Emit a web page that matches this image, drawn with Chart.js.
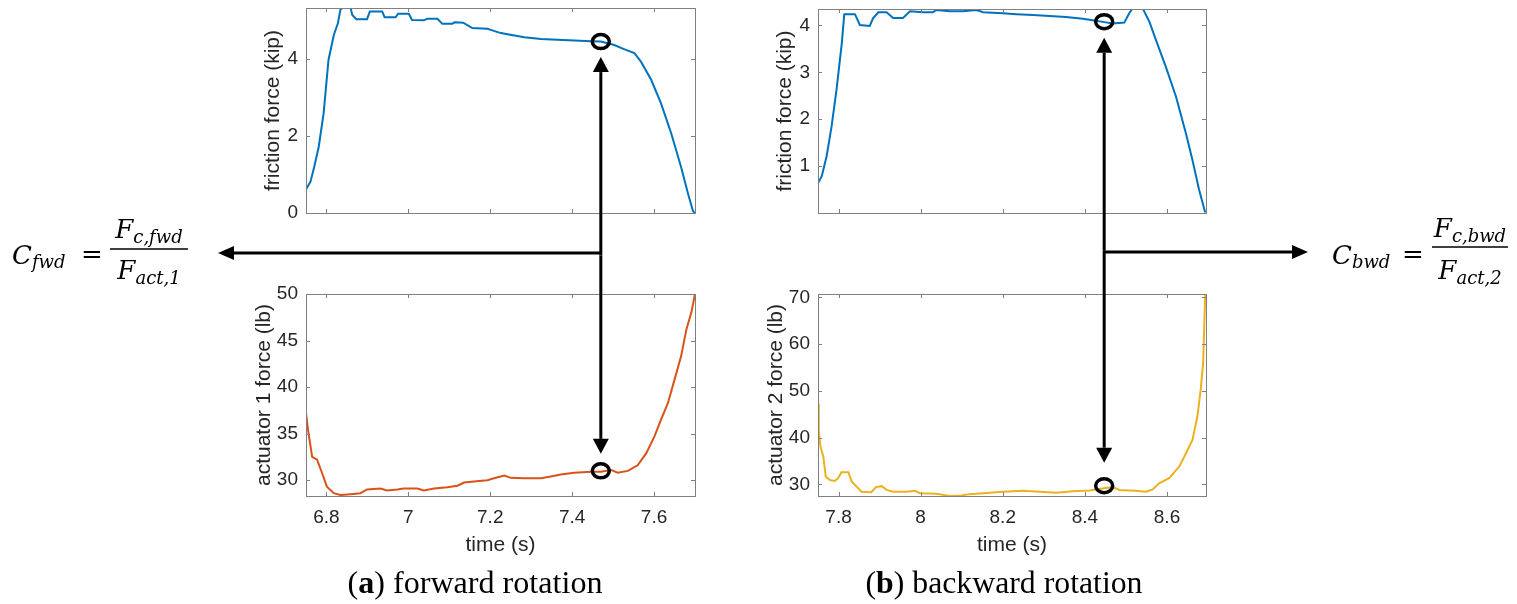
<!DOCTYPE html>
<html>
<head>
<meta charset="utf-8">
<script src="https://cdn.jsdelivr.net/npm/chart.js@4.4.1/dist/chart.umd.min.js"></script>
<style>
  html, body { margin: 0; padding: 0; background: #fff; }
  #page { position: relative; width: 1517px; height: 604px; overflow: hidden; background: #fff; }
  #page canvas { position: absolute; }
  #texto { position: absolute; left: 0; top: 0; }
</style>
</head>
<body>
<div id="page">
  <canvas id="fricFwd"></canvas>
  <canvas id="act1"></canvas>
  <canvas id="fricBwd"></canvas>
  <canvas id="act2"></canvas>
  <canvas id="overlay" width="1517" height="604" style="left:0;top:0"></canvas>
  <svg id="texto" width="1517" height="604">
    <g font-family="'DejaVu Serif', serif" font-style="italic" font-size="26" fill="#000">
      <text x="12" y="264">C<tspan font-size="18" dy="4">fwd</tspan></text>
      <text x="81" y="263" font-style="normal">=</text>
      <text x="149" y="238" text-anchor="middle">F<tspan font-size="18" dy="5">c,fwd</tspan></text>
      <line x1="110" x2="188" y1="249" y2="249" stroke="#000" stroke-width="1.6"/>
      <text x="149" y="279" text-anchor="middle">F<tspan font-size="18" dy="5">act,1</tspan></text>

      <text x="1332" y="264">C<tspan font-size="18" dy="4">bwd</tspan></text>
      <text x="1402" y="263" font-style="normal">=</text>
      <text x="1470" y="237" text-anchor="middle">F<tspan font-size="18" dy="5">c,bwd</tspan></text>
      <line x1="1432" x2="1508" y1="247" y2="247" stroke="#000" stroke-width="1.6"/>
      <text x="1470" y="279" text-anchor="middle">F<tspan font-size="18" dy="5">act,2</tspan></text>
    </g>
    <g font-family="'Liberation Serif', 'Times New Roman', serif" font-size="31" fill="#000">
      <text x="475" y="593" text-anchor="middle" textLength="255" lengthAdjust="spacingAndGlyphs">(<tspan font-weight="bold">a</tspan>) forward rotation</text>
      <text x="1004" y="593" text-anchor="middle" textLength="277" lengthAdjust="spacingAndGlyphs">(<tspan font-weight="bold">b</tspan>) backward rotation</text>
    </g>
  </svg>
</div>
<script>
// datos
const frictionFwdTime = [6.750, 6.761, 6.770, 6.781, 6.793, 6.805, 6.818, 6.828, 6.834, 6.838, 6.859, 6.863, 6.873, 6.899, 6.906, 6.936, 6.942, 6.969, 6.975, 7.001, 7.009, 7.038, 7.046, 7.071, 7.083, 7.107, 7.113, 7.134, 7.156, 7.193, 7.205, 7.226, 7.242, 7.283, 7.324, 7.364, 7.405, 7.446, 7.470, 7.503, 7.528, 7.552, 7.568, 7.593, 7.617, 7.642, 7.666, 7.683, 7.695, 7.700];
const frictionFwdKip = [0.61, 0.81, 1.19, 1.71, 2.58, 3.97, 4.61, 4.92, 5.26, 5.31, 5.31, 5.13, 5.02, 5.02, 5.22, 5.22, 5.07, 5.07, 5.16, 5.16, 5.00, 4.99, 5.03, 5.03, 4.90, 4.90, 4.94, 4.93, 4.79, 4.77, 4.73, 4.66, 4.63, 4.55, 4.51, 4.49, 4.47, 4.45, 4.44, 4.35, 4.24, 4.14, 3.92, 3.45, 2.84, 2.06, 1.19, 0.50, 0.05, 0.00];

const actuator1Time = [6.750, 6.755, 6.765, 6.777, 6.789, 6.801, 6.818, 6.834, 6.859, 6.883, 6.899, 6.932, 6.948, 6.973, 6.989, 7.022, 7.038, 7.063, 7.095, 7.120, 7.136, 7.160, 7.193, 7.209, 7.234, 7.250, 7.283, 7.324, 7.348, 7.372, 7.405, 7.446, 7.470, 7.495, 7.511, 7.536, 7.560, 7.581, 7.601, 7.617, 7.634, 7.650, 7.666, 7.679, 7.691, 7.700];
const actuator1Lb = [37.2, 35.4, 32.5, 32.2, 30.8, 29.3, 28.6, 28.4, 28.5, 28.6, 29.0, 29.1, 28.9, 29.0, 29.1, 29.1, 28.9, 29.1, 29.25, 29.4, 29.75, 29.85, 30.0, 30.2, 30.5, 30.25, 30.2, 30.2, 30.4, 30.6, 30.8, 30.9, 30.9, 31.1, 30.8, 31.0, 31.6, 32.9, 34.7, 36.5, 38.3, 40.8, 43.3, 46.2, 48.0, 50.0];

const frictionBwdTime = [7.750, 7.759, 7.771, 7.783, 7.795, 7.808, 7.814, 7.840, 7.852, 7.876, 7.884, 7.897, 7.917, 7.933, 7.957, 7.974, 8.006, 8.030, 8.038, 8.071, 8.103, 8.136, 8.152, 8.200, 8.233, 8.273, 8.314, 8.354, 8.395, 8.427, 8.447, 8.468, 8.496, 8.508, 8.516, 8.541, 8.557, 8.573, 8.597, 8.622, 8.646, 8.662, 8.678, 8.693];
const frictionBwdKip = [0.64, 0.78, 1.21, 1.84, 2.62, 3.62, 4.24, 4.24, 4.01, 3.99, 4.15, 4.28, 4.28, 4.16, 4.16, 4.30, 4.28, 4.28, 4.33, 4.30, 4.30, 4.33, 4.28, 4.26, 4.24, 4.22, 4.20, 4.18, 4.14, 4.10, 4.07, 4.04, 4.06, 4.26, 4.36, 4.36, 4.08, 3.69, 3.12, 2.48, 1.70, 1.13, 0.50, 0.01];

const actuator2Time = [7.750, 7.752, 7.756, 7.763, 7.769, 7.779, 7.791, 7.799, 7.807, 7.824, 7.832, 7.844, 7.856, 7.880, 7.891, 7.905, 7.917, 7.933, 7.965, 7.986, 7.998, 8.038, 8.071, 8.099, 8.119, 8.152, 8.200, 8.249, 8.290, 8.330, 8.370, 8.411, 8.443, 8.468, 8.484, 8.524, 8.549, 8.565, 8.581, 8.605, 8.630, 8.646, 8.662, 8.674, 8.682, 8.688, 8.691, 8.693];
const actuator2Lb = [47.3, 41.3, 38.1, 35.9, 31.6, 30.9, 30.7, 31.3, 32.6, 32.6, 30.6, 29.5, 28.4, 28.3, 29.4, 29.6, 28.8, 28.4, 28.4, 28.6, 28.1, 28.0, 27.5, 27.6, 27.9, 28.1, 28.4, 28.6, 28.4, 28.2, 28.5, 28.7, 29.1, 29.4, 28.8, 28.6, 28.4, 28.9, 30.2, 31.3, 33.8, 36.6, 39.5, 44.5, 50.2, 55.9, 64.4, 70.7];

const timeTicksFwd = [6.8, 7, 7.2, 7.4, 7.6];
const timeTicksBwd = [7.8, 8, 8.2, 8.4, 8.6];
const frictionFwdTicks = [0, 2, 4];
const frictionBwdTicks = [1, 2, 3, 4];
const actuator1Ticks = [30, 35, 40, 45, 50];
const actuator2Ticks = [30, 40, 50, 60, 70];

// punto marcado con circulo: [tiempo, friccion, actuador]
const markFwd = [7.47, 4.44, 31.0];
const markBwd = [8.447, 4.08, 29.7];

const textColor = "#262626";
const axisColor = "#808080";
const sans = "'Liberation Sans', Arial, sans-serif";

const marcoEjes = {
  id: "marcoEjes",
  afterDraw(chart, args, opts) {
    const { ctx, chartArea: a, scales } = chart;
    ctx.save();
    ctx.strokeStyle = axisColor;
    ctx.lineWidth = 1;
    ctx.strokeRect(Math.round(a.left) + 0.5, Math.round(a.top) + 0.5, Math.round(a.right - a.left), Math.round(a.bottom - a.top));
    ctx.beginPath();
    scales.x.ticks.forEach((t) => {
      const x = Math.round(scales.x.getPixelForValue(t.value)) + 0.5;
      ctx.moveTo(x, a.bottom); ctx.lineTo(x, a.bottom - 4);
      ctx.moveTo(x, a.top); ctx.lineTo(x, a.top + 4);
    });
    scales.y.ticks.forEach((t) => {
      const y = Math.round(scales.y.getPixelForValue(t.value)) + 0.5;
      ctx.moveTo(a.left, y); ctx.lineTo(a.left + 4, y);
      ctx.moveTo(a.right, y); ctx.lineTo(a.right - 4, y);
    });
    ctx.stroke();

    if (opts.mark) {
      const cx = scales.x.getPixelForValue(opts.mark[0]);
      const cy = scales.y.getPixelForValue(opts.mark[1]);
      ctx.strokeStyle = "#000";
      ctx.lineWidth = 3.5;
      ctx.beginPath();
      ctx.ellipse(cx, cy, 8.5, 7, 0, 0, Math.PI * 2);
      ctx.stroke();
    }
    ctx.restore();
  },
};

const fmt = (v) => String(Math.round(v * 10) / 10);

function crearPanel(p) {
  const canvas = document.getElementById(p.id);
  canvas.width = p.width;
  canvas.height = p.height;
  canvas.style.left = p.left + "px";
  canvas.style.top = p.top + "px";

  return new Chart(canvas, {
    type: "line",
    data: {
      datasets: [
        {
          data: p.time.map((t, i) => ({ x: t, y: p.values[i] })),
          borderColor: p.color,
          borderWidth: 2,
          pointRadius: 0,
          tension: 0,
        },
      ],
    },
    options: {
      responsive: false,
      animation: false,
      devicePixelRatio: 1,
      events: [],
      layout: { autoPadding: false, padding: { top: p.padTop, right: 10, bottom: 0, left: 0 } },
      plugins: {
        legend: { display: false },
        tooltip: { enabled: false },
        marcoEjes: { mark: p.mark },
      },
      scales: {
        x: {
          type: "linear",
          min: p.xMin,
          max: p.xMax,
          afterBuildTicks: (s) => { s.ticks = p.xTicks.map((v) => ({ value: v })); },
          afterFit: (s) => { s.height = p.xAxisH; s.paddingLeft = 0; s.paddingRight = 0; },
          grid: { display: false, drawTicks: false },
          border: { display: false },
          ticks: { display: p.showX, padding: 10, color: textColor, font: { family: sans, size: 19 }, maxRotation: 0, autoSkip: false, callback: fmt },
          title: { display: p.showX, text: "time (s)", color: textColor, font: { family: sans, size: 21 }, padding: { top: 4, bottom: 4 } },
        },
        y: {
          type: "linear",
          min: p.yMin,
          max: p.yMax,
          afterBuildTicks: (s) => { s.ticks = p.yTicks.map((v) => ({ value: v })); },
          afterFit: (s) => { s.width = p.yAxisW; s.paddingTop = 0; s.paddingBottom = 0; },
          grid: { display: false, drawTicks: false },
          border: { display: false },
          ticks: { padding: 8, color: textColor, font: { family: sans, size: 19 }, autoSkip: false, callback: fmt },
          title: { display: true, text: p.yTitle, color: textColor, font: { family: sans, size: 21 }, padding: { top: 4, bottom: 4 } },
        },
      },
    },
    plugins: [marcoEjes],
  });
}

const panelFricFwd = { id: "fricFwd", left: 257, top: 0, width: 448, height: 223, padTop: 8, xAxisH: 10, yAxisW: 49, showX: false,
  time: frictionFwdTime, values: frictionFwdKip, color: "#0072BD", xMin: 6.75, xMax: 7.70, yMin: 0, yMax: 5.31,
  xTicks: timeTicksFwd, yTicks: frictionFwdTicks, yTitle: "friction force (kip)", mark: [markFwd[0], markFwd[1]] };
const panelAct1 = { id: "act1", left: 248, top: 280, width: 457, height: 282, padTop: 14, xAxisH: 66, yAxisW: 58, showX: true,
  time: actuator1Time, values: actuator1Lb, color: "#D95319", xMin: 6.75, xMax: 7.70, yMin: 28.3, yMax: 50,
  xTicks: timeTicksFwd, yTicks: actuator1Ticks, yTitle: "actuator 1 force (lb)", mark: [markFwd[0], markFwd[2]] };
const panelFricBwd = { id: "fricBwd", left: 769, top: 0, width: 447, height: 223, padTop: 9, xAxisH: 10, yAxisW: 49, showX: false,
  time: frictionBwdTime, values: frictionBwdKip, color: "#0072BD", xMin: 7.75, xMax: 8.695, yMin: 0, yMax: 4.35,
  xTicks: timeTicksBwd, yTicks: frictionBwdTicks, yTitle: "friction force (kip)", mark: [markBwd[0], markBwd[1]] };
const panelAct2 = { id: "act2", left: 760, top: 280, width: 456, height: 282, padTop: 14, xAxisH: 66, yAxisW: 58, showX: true,
  time: actuator2Time, values: actuator2Lb, color: "#EDB120", xMin: 7.75, xMax: 8.695, yMin: 27.5, yMax: 70.7,
  xTicks: timeTicksBwd, yTicks: actuator2Ticks, yTitle: "actuator 2 force (lb)", mark: [markBwd[0], markBwd[2]] };

const chartFricFwd = crearPanel(panelFricFwd);
const chartAct1 = crearPanel(panelAct1);
const chartFricBwd = crearPanel(panelFricBwd);
const chartAct2 = crearPanel(panelAct2);

// flechas
const ov = document.getElementById("overlay").getContext("2d");

function flecha(x1, y1, x2, y2, largo, ancho) {
  const ang = Math.atan2(y2 - y1, x2 - x1);
  const bx = x2 - Math.cos(ang) * largo;
  const by = y2 - Math.sin(ang) * largo;
  ov.beginPath();
  ov.moveTo(x1, y1);
  ov.lineTo(bx, by);
  ov.stroke();
  ov.beginPath();
  ov.moveTo(x2, y2);
  ov.lineTo(bx - Math.sin(ang) * ancho, by + Math.cos(ang) * ancho);
  ov.lineTo(bx + Math.sin(ang) * ancho, by - Math.cos(ang) * ancho);
  ov.closePath();
  ov.fill();
}

function dibujarFlechas(chartTop, pTop, chartBot, pBot, gapTop, gapBot, hy, hx) {
  const x = chartTop.scales.x.getPixelForValue(pTop.mark[0]) + pTop.left;
  const yTop = chartTop.scales.y.getPixelForValue(pTop.mark[1]) + pTop.top + gapTop;
  const yBot = chartBot.scales.y.getPixelForValue(pBot.mark[1]) + pBot.top - gapBot;
  const mid = (yTop + yBot) / 2;
  flecha(x, mid, x, yTop, 15, 8);
  flecha(x, mid, x, yBot, 15, 8);
  flecha(x, hy, hx, hy, 16, 7);
}

ov.strokeStyle = "#000";
ov.fillStyle = "#000";
ov.lineWidth = 3;
dibujarFlechas(chartFricFwd, panelFricFwd, chartAct1, panelAct1, 15.5, 17, 253, 218);
dibujarFlechas(chartFricBwd, panelFricBwd, chartAct2, panelAct2, 16, 23, 252, 1308);
</script>
</body>
</html>
